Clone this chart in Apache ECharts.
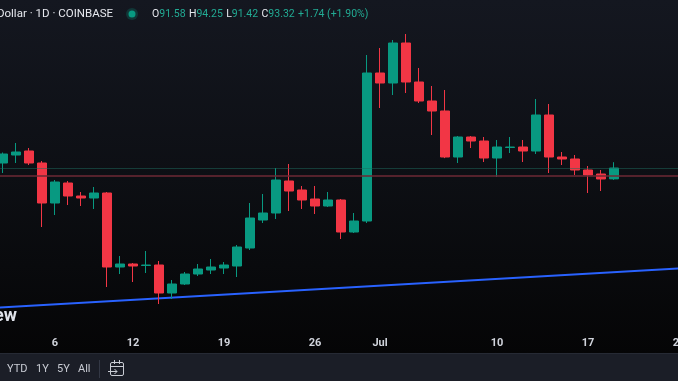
<!DOCTYPE html>
<html>
<head>
<meta charset="utf-8">
<script src="https://cdn.jsdelivr.net/npm/echarts@6/dist/echarts.min.js"></script>
<style>
html,body{margin:0;padding:0;background:#000;overflow:hidden;}
#c{width:678px;height:381px;}
</style>
</head>
<body>
<div id="c"></div>
<script>
// ---- data ----
const categories = [
  '06-01','06-02','06-03','06-04','06-05','06-06','06-07','06-08','06-09','06-10',
  '06-11','06-12','06-13','06-14','06-15','06-16','06-17','06-18','06-19','06-20',
  '06-21','06-22','06-23','06-24','06-25','06-26','06-27','06-28','06-29','06-30',
  '07-01','07-02','07-03','07-04','07-05','07-06','07-07','07-08','07-09','07-10',
  '07-11','07-12','07-13','07-14','07-15','07-16','07-17','07-18','07-19','07-20',
  '07-21','07-22','07-23','07-24'
];
const opens = [null,
  94.12,95.40,96.04,94.12,87.72,90.92,88.84,88.52,89.32,77.48,
  77.96,77.72,77.80,73.32,74.76,76.36,77.00,77.32,77.64,80.52,
  85.00,86.12,91.24,89.80,88.36,87.24,88.20,83.08,84.84,108.52,
  106.92,113.32,107.08,104.04,102.44,95.08,98.28,97.64,94.92,96.60,
  96.68,96.04,101.80,95.08,94.76,93.00,92.36,91.58,null,null,null,null,null];
const closes = [null,
  95.56,95.88,94.12,87.72,91.08,88.84,88.52,89.32,77.48,77.96,
  77.64,77.80,73.32,74.76,76.36,77.16,77.48,77.80,80.68,85.32,
  86.12,91.40,89.64,88.20,87.24,88.20,83.08,84.84,108.52,106.92,
  113.32,107.08,104.04,102.44,95.08,98.28,97.64,94.92,96.68,96.68,
  96.04,101.80,95.08,94.76,93.00,92.20,91.56,93.32,null,null,null,null,null];
const lows = [null,
  92.52,94.12,93.80,83.88,85.80,87.40,87.24,86.76,74.28,76.36,
  75.08,76.52,71.56,72.36,74.60,76.04,76.36,76.36,75.88,80.20,
  84.52,85.16,86.44,86.76,85.96,87.08,81.96,82.92,84.52,102.92,
  105.00,105.32,103.72,98.60,94.90,94.12,96.52,94.28,91.88,95.72,
  94.28,95.56,92.52,93.80,92.20,89.32,89.64,91.42,null,null,null,null,null];
const highs = [null,
  95.80,97.32,96.52,94.44,91.40,91.24,89.48,90.28,89.48,79.24,
  78.12,80.04,78.44,75.40,76.68,77.96,78.76,78.28,81.00,87.72,
  89.16,93.32,93.96,90.44,90.44,89.48,88.36,86.12,111.40,112.52,
  113.80,114.76,109.32,106.44,105.80,98.44,98.44,98.28,97.80,98.28,
  97.80,104.36,103.56,95.88,95.40,93.64,93.00,94.25,null,null,null,null,null];
const tickCats = ['06-06','06-12','06-19','06-26','07-01','07-10','07-17','07-24'];
const tickLabels = ['6','12','19','26','Jul','10','17','24'];
const trendStart = 70.92;   // blue trend line value at first category
const trendEnd = 77.24;     // blue trend line value at last category
const levelLine = 92.09;    // red horizontal level
const priceMin = 67.4, priceMax = 115.4;
const titleText = 'U.S. Dollar · 1D · COINBASE';
const rangeButtons = ['YTD','1Y','5Y','All'];

// ---- build ----
const candles = categories.map((c,i) => opens[i] == null ? '-' : [opens[i], closes[i], lows[i], highs[i]]);
const trend = categories.map((c,i) => i === 0 ? trendStart : (i === categories.length-1 ? trendEnd : null));
let last = opens.length - 1;
while (opens[last] == null) last--;
const lo = opens[last], lc = closes[last], ll = lows[last], lh = highs[last];
const chg = lc - lo;
const pct = chg / lo * 100;

const UP = '#089981', DOWN = '#f23645';
const FONT = 'Roboto, "Noto Sans", sans-serif';
const btnX = [7, 36, 57, 78];

const graphics = [
  {type:'rect', z:-10, silent:true, shape:{x:0,y:0,width:678,height:353},
    style:{fill:new echarts.graphic.LinearGradient(0,0,0,1,[
      {offset:0,color:'#141720'},{offset:0.5,color:'#0d0f14'},{offset:1,color:'#050506'}])}},
  {type:'rect', z:-10, silent:true, shape:{x:0,y:353,width:678,height:28}, style:{fill:'#1b1e27'}},
  {type:'rect', z:-9, silent:true, shape:{x:0,y:353,width:678,height:1}, style:{fill:'#262a34'}},
  {type:'text', z:10, silent:true, x:113, y:14,
    style:{text:titleText, fill:'#e6e8ee', font:'11.5px ' + FONT, align:'right', verticalAlign:'middle'}},
  {type:'circle', z:10, silent:true, shape:{cx:132, cy:14, r:6}, style:{fill:'rgba(8,153,129,0.25)'}},
  {type:'circle', z:11, silent:true, shape:{cx:132, cy:14, r:3.5}, style:{fill:UP}},
  {type:'text', z:10, silent:true, x:152, y:14,
    style:{
      text: '{l|O}{v|' + lo.toFixed(2) + '} {l|H}{v|' + lh.toFixed(2) + '} {l|L}{v|' + ll.toFixed(2) +
            '} {l|C}{v|' + lc.toFixed(2) + '} {v|' + (chg>=0?'+':'') + chg.toFixed(2) + ' (' + (pct>=0?'+':'') + pct.toFixed(2) + '%)}',
      verticalAlign:'middle',
      rich: {
        l:{fill:'#e6e8ee', font:'10.5px ' + FONT},
        v:{fill:'#22ab94', font:'10.5px ' + FONT}
      }
    }},
  {type:'text', z:10, silent:true, x:17, y:316,
    style:{text:'TradingView', fill:'#e0e3eb', font:'bold 18px ' + FONT, align:'right', verticalAlign:'middle'}},
  {type:'rect', z:10, silent:true, shape:{x:99, y:360, width:1, height:18}, style:{fill:'#333845'}},
  // calendar icon
  {type:'rect', z:10, silent:true, shape:{x:110.5, y:362.5, width:13, height:13, r:1.5},
    style:{fill:'none', stroke:'#c9ccd4', lineWidth:1}},
  {type:'line', z:10, silent:true, shape:{x1:110.5, y1:366.5, x2:123.5, y2:366.5}, style:{stroke:'#c9ccd4', lineWidth:1}},
  {type:'line', z:10, silent:true, shape:{x1:114.5, y1:360, x2:114.5, y2:364}, style:{stroke:'#c9ccd4', lineWidth:1}},
  {type:'line', z:10, silent:true, shape:{x1:119.5, y1:360, x2:119.5, y2:364}, style:{stroke:'#c9ccd4', lineWidth:1}},
  {type:'line', z:10, silent:true, shape:{x1:108, y1:371.5, x2:117, y2:371.5}, style:{stroke:'#c9ccd4', lineWidth:1}},
  {type:'polyline', z:10, silent:true, shape:{points:[[114.5,369],[117,371.5],[114.5,374]]}, style:{fill:'none', stroke:'#c9ccd4', lineWidth:1}}
];
rangeButtons.forEach((t,i) => graphics.push({type:'text', z:10, silent:true, x:btnX[i], y:369,
  style:{text:t, fill:'#c9ccd4', font:'11px ' + FONT, verticalAlign:'middle'}}));

const chart = echarts.init(document.getElementById('c'), null, {renderer:'canvas'});
chart.setOption({
  backgroundColor: '#000',
  animation: false,
  grid: {left: -16.5, width: 702, top: 30, height: 300, containLabel: false, outerBoundsMode: 'none'},
  xAxis: {
    type: 'category', data: categories, boundaryGap: true,
    axisLine: {show:false}, axisTick: {show:false}, splitLine: {show:false},
    axisLabel: {
      interval: (i, v) => tickCats.indexOf(v) >= 0,
      formatter: v => tickLabels[tickCats.indexOf(v)],
      color: '#d1d4dc', fontSize: 11, fontFamily: FONT, fontWeight: 'bold', margin: 8
    }
  },
  yAxis: {
    type: 'value', min: priceMin, max: priceMax, show: false, scale: true,
    splitLine: {show:false}
  },
  graphic: graphics,
  series: [
    {
      type: 'line', data: trend, connectNulls: true, symbol: 'none', silent: true,
      lineStyle: {color: '#2962ff', width: 2}, z: 3
    },
    {
      type: 'candlestick', data: candles, barWidth: 10, z: 4,
      itemStyle: {color: UP, color0: DOWN, borderColor: UP, borderColor0: DOWN, borderWidth: 1},
      markLine: {
        silent: true, symbol: 'none', label: {show: false},
        data: [
          {yAxis: levelLine, lineStyle: {color: '#6e2a35', width: 1.5, type: 'solid'}},
          {yAxis: lc, lineStyle: {color: '#1f6b5f', width: 1, type: 'dotted'}}
        ]
      }
    }
  ]
});
</script>
</body>
</html>
